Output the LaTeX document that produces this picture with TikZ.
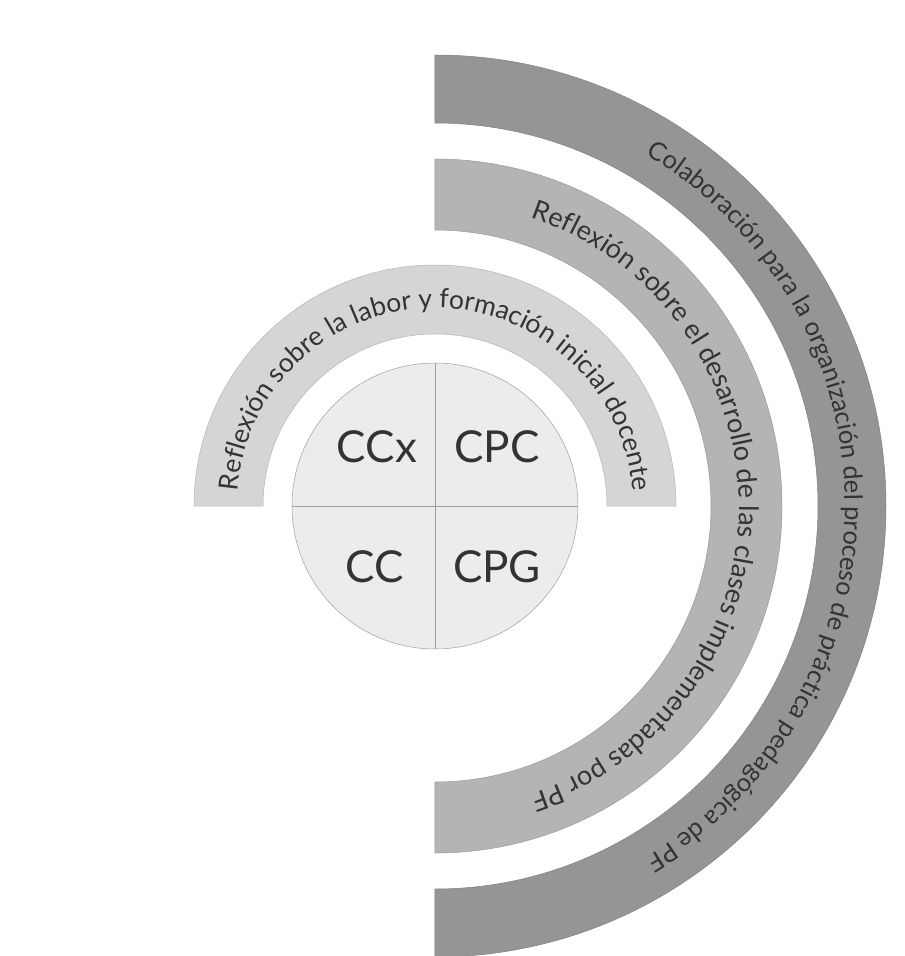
\documentclass[tikz,border=0pt]{standalone}
\usepackage{fontspec}
\setmainfont{Lato}
\usetikzlibrary{decorations.text}

\definecolor{bandaext}{HTML}{959595}
\definecolor{bandamed}{HTML}{B4B4B4}
\definecolor{bandaint}{HTML}{D5D5D5}
\definecolor{disco}{HTML}{ECECEC}
\definecolor{texto}{HTML}{333333}

\begin{document}
\begin{tikzpicture}[x=1pt, y=1pt,
  banda/.style={draw=#1!85!black, line width=0.5pt, fill=#1},
  rotulo/.style 2 args={decorate, decoration={text along path, text align=center,
    text color=texto, text={|\fontsize{#1}{#1}\selectfont|#2}}},
  sigla/.style={text=texto, font=\fontsize{44}{44}\selectfont}]
  \useasboundingbox (-435pt,-450pt) rectangle (470pt,506pt);

  % Banda exterior r=383..451
  \draw[banda=bandaext] (90:383pt) arc[start angle=90, end angle=-90, radius=383pt]
    -- (-90:451pt) arc[start angle=-90, end angle=90, radius=451pt] -- cycle;
  \path[rotulo={25.5}{Colaboración para la organización del proceso de práctica pedagógica de PF}]
    (90:410pt) arc[start angle=90, end angle=-90, radius=410pt];

  % Banda media r=276..347
  \draw[banda=bandamed] (90:276pt) arc[start angle=90, end angle=-90, radius=276pt]
    -- (-90:347pt) arc[start angle=-90, end angle=90, radius=347pt] -- cycle;
  \path[rotulo={27}{Reflexión sobre el desarrollo de las clases implementadas por PF}]
    (90:304pt) arc[start angle=90, end angle=-90, radius=304pt];

  % Banda interior r=172..241
  \draw[banda=bandaint] (180:172pt) arc[start angle=180, end angle=0, radius=172pt]
    -- (0:241pt) arc[start angle=0, end angle=180, radius=241pt] -- cycle;
  \path[rotulo={26.5}{Reflexión sobre la labor y formación inicial docente}]
    (180:198pt) arc[start angle=180, end angle=0, radius=198pt];

  % Disco central con cuadrantes
  \node[circle, minimum size=286pt, inner sep=0pt, draw=gray!75, line width=0.5pt,
    fill=disco] (disco) at (0,0) {};
  \draw[gray!75, line width=0.5pt] (disco.west) -- (disco.east);
  \draw[gray!75, line width=0.5pt] (disco.north) -- (disco.south);

  \node[sigla] (ccx) at (-58pt,59pt) {CCx};
  \node[sigla] (cpc) at (62pt,59pt) {CPC};
  \node[sigla] (cc) at (-60pt,-61pt) {CC};
  \node[sigla] (cpg) at (62pt,-61pt) {CPG};
\end{tikzpicture}
\end{document}
